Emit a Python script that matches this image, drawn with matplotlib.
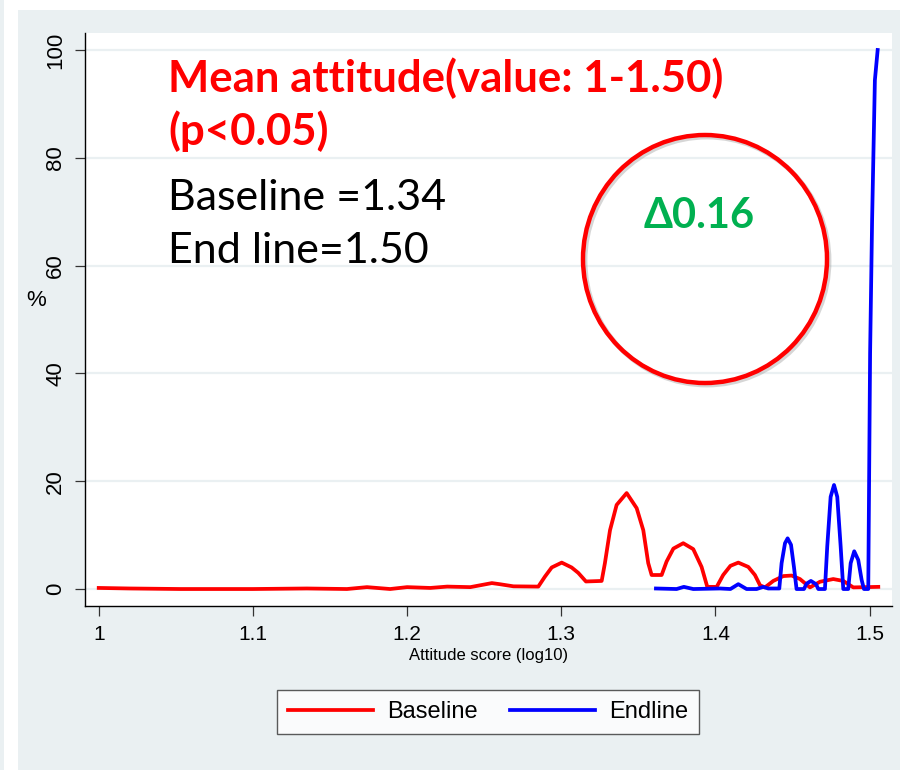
import matplotlib.pyplot as plt
from matplotlib.patches import Ellipse, Rectangle

# values
baseline_x = [1.000, 1.020, 1.053, 1.100, 1.135, 1.161, 1.174, 1.189, 1.200, 1.215,
              1.226, 1.241, 1.255, 1.260, 1.269, 1.2851, 1.2894, 1.2938, 1.3003, 1.3067,
              1.311, 1.316, 1.3262, 1.3283, 1.3316, 1.3359, 1.3424, 1.3489, 1.3532, 1.3564,
              1.3586, 1.3651, 1.3683, 1.3727, 1.3791, 1.3856, 1.391, 1.3947, 1.4008, 1.405,
              1.4097, 1.4148, 1.4213, 1.4256, 1.4289, 1.4321, 1.4375, 1.444, 1.4494, 1.4548,
              1.4613, 1.4678, 1.4764, 1.4829, 1.4894, 1.5056]
baseline_y = [0.2, 0.1, 0.0, 0.0, 0.1, 0.0, 0.35, 0.0, 0.35, 0.2,
              0.45, 0.35, 1.1, 0.9, 0.5, 0.45, 2.3, 4.0, 4.9, 4.0,
              3.0, 1.4, 1.5, 4.8, 10.9, 15.6, 17.8, 15.0, 10.9, 4.8,
              2.6, 2.6, 5.1, 7.5, 8.5, 7.4, 4.1, 0.4, 0.4, 2.6,
              4.3, 4.9, 4.1, 2.6, 0.7, 0.3, 1.5, 2.4, 2.5, 1.85,
              0.3, 1.35, 1.85, 1.5, 0.3, 0.4]

endline_x = [1.3614, 1.3748, 1.3795, 1.3856, 1.403, 1.4097, 1.4148, 1.4202, 1.4267, 1.431,
             1.4342, 1.4414, 1.4429, 1.4451, 1.4468, 1.449, 1.4509, 1.4526, 1.4574, 1.4591,
             1.4619, 1.4652, 1.4667, 1.471, 1.4725, 1.4747, 1.4769, 1.479, 1.4812, 1.4829,
             1.4861, 1.4877, 1.49, 1.4926, 1.4948, 1.4963, 1.4991, 1.5003, 1.5016, 1.5034,
             1.5052]
endline_y = [0.1, 0.0, 0.4, 0.0, 0.1, 0.0, 0.9, 0.0, 0.0, 0.4,
             0.1, 0.1, 4.8, 8.5, 9.4, 8.2, 4.1, 0.0, 0.0, 1.0,
             1.5, 0.9, 0.0, 0.0, 7.9, 17.1, 19.3, 17.1, 7.9, 0.0,
             0.0, 4.8, 7.0, 5.4, 1.7, 0.0, 0.0, 43.8, 68.5, 94.4,
             100.0]

x_ticks = [1, 1.1, 1.2, 1.3, 1.4, 1.5]
x_tick_labels = ['1', '1.1', '1.2', '1.3', '1.4', '1.5']
y_ticks = [0, 20, 40, 60, 80, 100]

bg = '#EAF0F2'
sans = ['Liberation Sans', 'DejaVu Sans']
calib = ['Lato', 'Open Sans', 'DejaVu Sans']

W, H = 900, 770
fig = plt.figure(figsize=(9, 7.7), dpi=100, facecolor='white')
fig.add_artist(Rectangle((18 / W, 0), 1 - 18 / W, 1 - 10 / H, transform=fig.transFigure,
                         facecolor=bg, edgecolor='none', zorder=-2))
fig.add_artist(Rectangle((0, 0), 4 / W, 1, transform=fig.transFigure,
                         facecolor=bg, edgecolor='none', zorder=-2))

ax = fig.add_axes([85 / W, 1 - 606 / H, (892 - 85) / W, (606 - 33) / H])
ax.set_facecolor('white')
ax.plot(baseline_x, baseline_y, color='#FF0000', lw=2.7, label='Baseline', zorder=3,
        solid_joinstyle='round')
ax.plot(endline_x, endline_y, color='#0000FF', lw=2.7, label='Endline', zorder=4,
        solid_joinstyle='round')

ax.set_xlim(0.9911, 1.5145)
ax.set_ylim(-3.15, 103.15)
ax.set_xticks(x_ticks)
ax.set_xticklabels(x_tick_labels, family=sans, fontsize=15)
ax.set_yticks(y_ticks)
ax.set_yticklabels([str(v) for v in y_ticks], family=sans, fontsize=16,
                   rotation=90, va='center')
ax.tick_params(length=7.5, width=0.9, color='#333333', pad=6)
ax.grid(axis='y', color=bg, lw=1.6)
ax.set_axisbelow(True)
for s in ['top', 'right']:
    ax.spines[s].set_visible(False)
for s in ['left', 'bottom']:
    ax.spines[s].set_color('black')
    ax.spines[s].set_linewidth(1.0)

ax.set_xlabel('Attitude score (log10)', family=sans, fontsize=12, labelpad=3)
fig.text(36 / W, 1 - 300 / H, '%', family=sans, fontsize=16, ha='center', va='center')

leg = fig.legend(loc='center', bbox_to_anchor=(488 / W, 1 - 712 / H), ncol=2,
                 prop={'family': sans, 'size': 17}, frameon=True, fancybox=False,
                 handlelength=3.6, handletextpad=0.6, columnspacing=1.35,
                 borderpad=0.45, edgecolor='#333333')
leg.get_frame().set_linewidth(1.0)

# overlay annotations
fig.text(168 / W, 1 - 92 / H, 'Mean attitude(value: 1-1.50)', family=calib, fontsize=31.5,
         fontweight='bold', color='#FF0000', va='baseline', zorder=5)
fig.text(168 / W, 1 - 145 / H, '(p<0.05)', family=calib, fontsize=31.5,
         fontweight='bold', color='#FF0000', va='baseline', zorder=5)
fig.text(168 / W, 1 - 210 / H, 'Baseline =1.34', family=calib, fontsize=31,
         color='black', va='baseline', zorder=5)
fig.text(168 / W, 1 - 263 / H, 'End line=1.50', family=calib, fontsize=31,
         color='black', va='baseline', zorder=5)

fig.add_artist(Ellipse((707 / W, 1 - 261 / H), 244 / W, 248 / H, transform=fig.transFigure,
                       facecolor='none', edgecolor='#999999', lw=3.5, alpha=0.4, zorder=5))
fig.add_artist(Ellipse((705 / W, 1 - 259 / H), 244 / W, 248 / H, transform=fig.transFigure,
                       facecolor='none', edgecolor='#FF0000', lw=3.2, zorder=6))
fig.text(699 / W, 1 - 228 / H, '\u03940.16', family=calib, fontsize=30, fontweight='bold',
         color='#00B050', ha='center', va='baseline', zorder=7)

fig.savefig('out.png', dpi=100, facecolor=fig.get_facecolor())
